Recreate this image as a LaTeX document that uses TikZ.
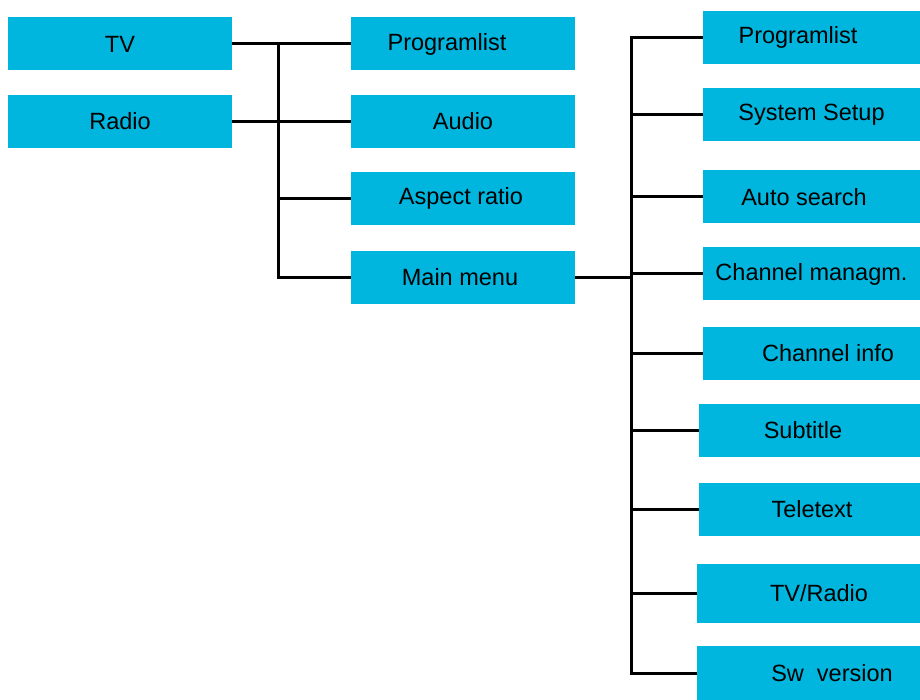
\documentclass[tikz,border=0pt]{standalone}
\usepackage{fontspec}
\setmainfont{Liberation Sans}
\definecolor{menublue}{RGB}{0,182,222}
\begin{document}
\begin{tikzpicture}[x=1pt,y=-1pt,
  menubox/.style={rectangle,fill=menublue,draw=none,inner sep=0pt,
    minimum height=53,font=\fontsize{23.5}{28}\selectfont,text=black},
  leftbox/.style={menubox,minimum width=224},
  midbox/.style={menubox,minimum width=224},
  rightbox/.style={menubox,minimum width=217},
  link/.style={draw=black,line width=3pt}]
\useasboundingbox (0,0) rectangle (920,700);

% first level
\node[leftbox] (tv)    at (120,44)    {TV};
\node[leftbox] (radio) at (120,121.5) {Radio};

% second level
\node[midbox] (plist)  at (463,44)    {\hspace*{-32pt}Programlist};
\node[midbox] (audio)  at (463,121.5) {Audio};
\node[midbox] (aspect) at (463,198.5) {\hspace*{-4pt}Aspect ratio};
\node[midbox] (mmenu)  at (463,277.5) {\hspace*{-6pt}Main menu};

% main menu entries
\node[rightbox] (r1) at (811.5,37.5) {\hspace*{-27pt}Programlist};
\node[rightbox] (r2) at (811.5,115)  {System Setup};
\node[rightbox] (r3) at (811.5,197)  {\hspace*{-15pt}Auto search};
\node[rightbox] (r4) at (811.5,274)  {Channel managm.};
\node[rightbox] (r5) at (811.5,353)  {\hspace*{33pt}Channel info};
\node[rightbox,minimum width=221] (r6) at (809.5,430) {\hspace*{-13pt}Subtitle};
\node[rightbox,minimum width=221] (r7) at (809.5,509) {\hspace*{5pt}Teletext};
\node[rightbox,minimum width=223,minimum height=59] (r8) at (808.5,593.5) {\hspace*{21pt}TV/Radio};
\node[rightbox,minimum width=223,minimum height=54] (r9) at (808.5,673) {\hspace*{47pt}Sw\ \ version};

% bus positions
\coordinate (busL) at (278,0);
\coordinate (busR) at (631,0);

% connectors of the first level
\draw[link] (tv.east) -- (plist.west);
\draw[link] (radio.east) -- (audio.west);
\draw[link] (plist.west -| busL) -- (mmenu.west -| busL) -- (mmenu.west);
\draw[link] (aspect.west -| busL) -- (aspect.west);

% connectors of the main menu
\draw[link] (mmenu.east) -- (mmenu.east -| busR);
\draw[link] (r1.west) -- (r1.west -| busR) -- (r9.west -| busR) -- (r9.west);
\foreach \n in {r2,r3,r4,r5,r6,r7,r8}
  \draw[link] (\n.west -| busR) -- (\n.west);
\end{tikzpicture}
\end{document}
